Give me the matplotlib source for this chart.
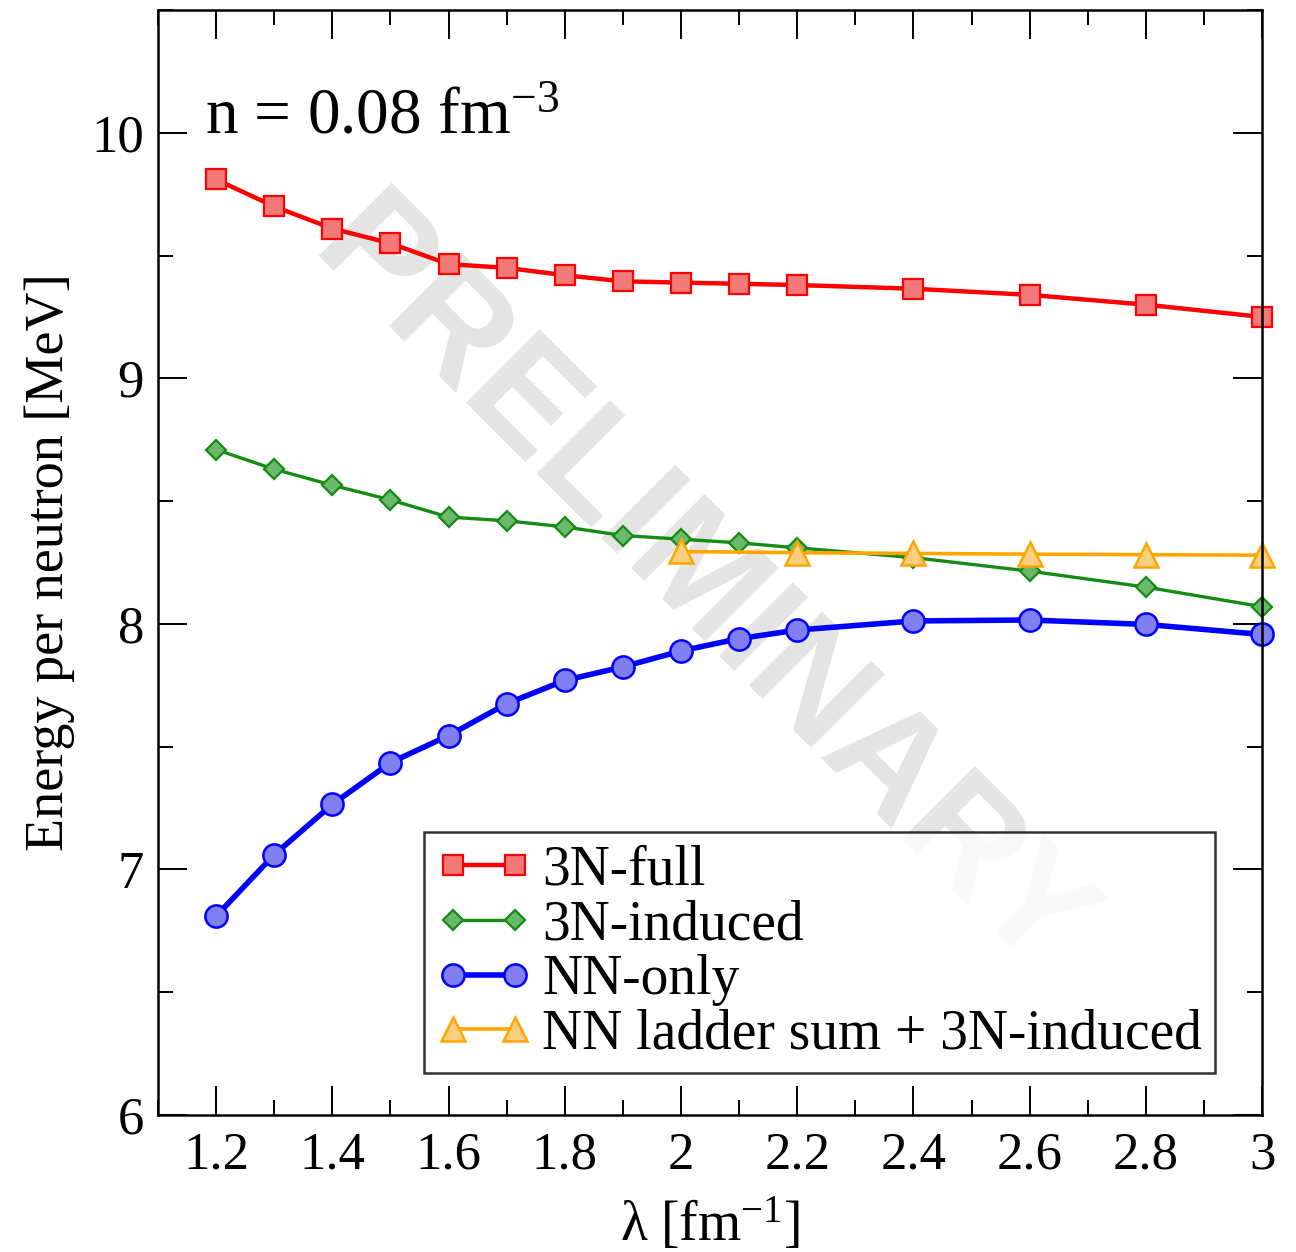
import matplotlib
matplotlib.use('Agg')
import matplotlib.pyplot as plt
from matplotlib.ticker import MultipleLocator

# data
lam_full = [1.2, 1.3, 1.4, 1.5, 1.6, 1.7, 1.8, 1.9, 2.0, 2.1, 2.2, 2.4, 2.6, 2.8, 3.0]
e_3n_full = [9.81, 9.70, 9.61, 9.55, 9.465, 9.45, 9.42, 9.395, 9.39, 9.385, 9.38,
             9.365, 9.34, 9.30, 9.25]
e_3n_induced = [8.71, 8.63, 8.565, 8.505, 8.435, 8.42, 8.395, 8.36, 8.345, 8.33, 8.31,
                8.27, 8.215, 8.15, 8.07]
e_nn_only = [6.81, 7.06, 7.265, 7.435, 7.545, 7.675, 7.77, 7.825, 7.89, 7.94, 7.975,
             8.012, 8.016, 7.998, 7.957]
lam_ladder = [2.0, 2.2, 2.4, 2.6, 2.8, 3.0]
e_ladder = [8.295, 8.29, 8.287, 8.284, 8.282, 8.28]

labels = ['3N-full', '3N-induced', 'NN-only', 'NN ladder sum + 3N-induced']
xtick_vals = [1.2, 1.4, 1.6, 1.8, 2.0, 2.2, 2.4, 2.6, 2.8, 3.0]
xtick_text = ['1.2', '1.4', '1.6', '1.8', '2', '2.2', '2.4', '2.6', '2.8', '3']
ytick_vals = [6, 7, 8, 9, 10]

plt.rcParams['font.family'] = ['Liberation Serif', 'DejaVu Serif']
plt.rcParams['mathtext.fontset'] = 'custom'
plt.rcParams['mathtext.rm'] = 'Liberation Serif'
plt.rcParams['mathtext.it'] = 'Liberation Serif:italic'


def main():
    fig = plt.figure(figsize=(12.96, 12.52), dpi=100)
    ax = fig.add_axes([0.1219, 0.1094, 0.8519, 0.8826])

    ax.text(0.49, 0.475, 'PRELIMINARY', transform=ax.transAxes, rotation=-45,
            ha='center', va='center', fontsize=108, fontweight='bold',
            family='Liberation Sans', color='#e4e4e4', zorder=0)

    ax.plot(lam_full, e_3n_full, '-s', color='red', lw=3.2, ms=14,
            mfc='#f47a7a', mec='red', mew=1.6, label=labels[0], clip_on=False)
    ax.plot(lam_full, e_3n_induced, '-D', color='#128c12', lw=2.4, ms=10.5,
            mfc='#6cb86c', mec='#128c12', mew=1.6, label=labels[1], clip_on=False)
    ax.plot(lam_full, e_nn_only, '-o', color='blue', lw=4.0, ms=16,
            mfc='#7f7ff2', mec='blue', mew=1.8, label=labels[2], clip_on=False)
    ax.plot(lam_ladder, e_ladder, '-^', color='orange', lw=2.6, ms=17,
            mfc='#f9cf80', mec='orange', mew=1.8, label=labels[3], clip_on=False)

    ax.set_xlim(1.1, 3.0)
    ax.set_ylim(6, 10.5)
    ax.xaxis.set_minor_locator(MultipleLocator(0.1))
    ax.yaxis.set_minor_locator(MultipleLocator(0.5))
    ax.set_xticks(xtick_vals)
    ax.set_xticklabels(xtick_text)
    ax.set_yticks(ytick_vals)
    ax.set_yticklabels([str(v) for v in ytick_vals])
    ax.tick_params(which='both', direction='in', top=True, right=True,
                   labelsize=38, width=1.4)
    ax.tick_params(axis='x', pad=12)
    ax.tick_params(axis='y', pad=10)
    ax.tick_params(which='major', length=21)
    ax.tick_params(which='minor', length=11)
    for s in ax.spines.values():
        s.set_linewidth(1.8)

    ax.set_xlabel(r'$\mathregular{\lambda\ [fm^{-1}]}$', fontsize=40, labelpad=12)
    ax.set_ylabel('Energy per neutron [MeV]', fontsize=39, labelpad=12)

    ax.text(0.043, 0.889, r'n = 0.08 fm$^{\mathregular{-3}}$', transform=ax.transAxes,
            fontsize=47, ha='left', va='baseline')

    leg = ax.legend(loc='lower right', bbox_to_anchor=(0.957, 0.038), fontsize=40,
                    frameon=True, fancybox=False, numpoints=2, handlelength=1.71,
                    handletextpad=0.2, labelspacing=0.05, borderpad=0.22,
                    borderaxespad=0)
    leg.get_frame().set_edgecolor('black')
    leg.get_frame().set_linewidth(1.8)

    fig.savefig('out.png', dpi=100)


if __name__ == '__main__':
    main()
